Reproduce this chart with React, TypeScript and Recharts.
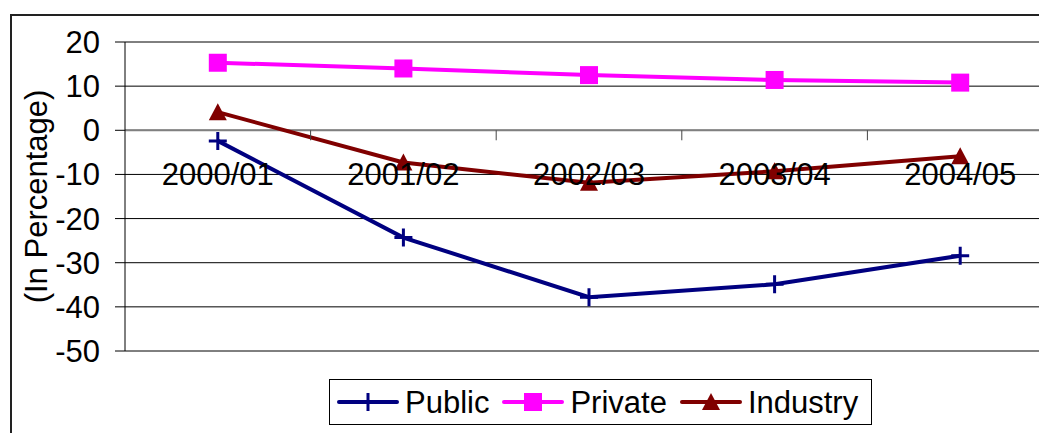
import React from 'react';
import { LineChart, Line, XAxis, YAxis, CartesianGrid, Legend, ReferenceLine } from 'recharts';

const periods = ['2000/01', '2001/02', '2002/03', '2003/04', '2004/05'];
const publicSector = [-2.4, -24.3, -37.8, -34.9, -28.4];
const privateSector = [15.3, 14.0, 12.5, 11.4, 10.8];
const industry = [4.1, -7.3, -11.9, -9.3, -5.9];
const yTicks = [-50, -40, -30, -20, -10, 0, 10, 20];

const chartData = periods.map((period, i) => ({
    period,
    public: publicSector[i],
    private: privateSector[i],
    industry: industry[i],
}));

const FONT = '"Liberation Sans", Arial, sans-serif';
const FONT_SIZE = 31;

// the plot runs a little past the right edge of the frame, so the chart is wider than the page
const WIDTH = 1070;
const HEIGHT = 433;
const MARGIN = { top: 42, right: 17, bottom: 52, left: 0 };
const Y_AXIS_WIDTH = 125;
const X_AXIS_HEIGHT = 30;
const Y_MIN = yTicks[0];
const Y_MAX = yTicks[yTicks.length - 1];

const plotWidth = WIDTH - MARGIN.left - MARGIN.right - Y_AXIS_WIDTH;
const plotHeight = HEIGHT - MARGIN.top - MARGIN.bottom - X_AXIS_HEIGHT;
const band = plotWidth / periods.length;
const zeroY = MARGIN.top + (plotHeight * Y_MAX) / (Y_MAX - Y_MIN);

const COLORS = { public: '#000080', private: '#FF00FF', industry: '#800000' };

type Marker = 'plus' | 'square' | 'triangle';

const series: { key: keyof typeof COLORS; name: string; marker: Marker }[] = [
    { key: 'public', name: 'Public', marker: 'plus' },
    { key: 'private', name: 'Private', marker: 'square' },
    { key: 'industry', name: 'Industry', marker: 'triangle' },
];

const drawMarker = (marker: Marker, cx: number, cy: number, color: string) => {
    if (marker === 'plus') {
        return <path d={`M${cx},${cy - 9}V${cy + 9}M${cx - 9},${cy}H${cx + 9}`} stroke={color} strokeWidth={3} fill="none" />;
    }
    if (marker === 'square') {
        return <rect x={cx - 9} y={cy - 9} width={18} height={18} fill={color} />;
    }
    return <polygon points={`${cx},${cy - 9} ${cx + 9},${cy + 8} ${cx - 9},${cy + 8}`} fill={color} />;
};

// category labels sit under the zero line, tick marks fall between categories
const PeriodTick = ({ x, payload, index }: any) => (
    <g>
        {index > 0 && (
            <line x1={x - band / 2} x2={x - band / 2} y1={zeroY} y2={zeroY + 10} stroke="#444" strokeWidth={1} />
        )}
        <text x={x} y={zeroY + 55} textAnchor="middle" fontSize={FONT_SIZE} fontFamily={FONT} fill="#000">
            {payload.value}
        </text>
    </g>
);

const LegendBox = () => (
    <div
        style={{
            display: 'flex',
            alignItems: 'center',
            width: '100%',
            height: '100%',
            boxSizing: 'border-box',
            border: '1px solid #000',
            paddingLeft: 7,
            fontFamily: FONT,
            fontSize: FONT_SIZE,
            color: '#000',
            background: '#fff',
        }}
    >
        {series.map(s => (
            <div key={s.key} style={{ display: 'flex', alignItems: 'center', marginRight: 13 }}>
                <svg width={62} height={22}>
                    <line x1={2} x2={60} y1={11} y2={11} stroke={COLORS[s.key]} strokeWidth={4} strokeLinecap="round" />
                    {drawMarker(s.marker, 31, 11, COLORS[s.key])}
                </svg>
                <span style={{ marginLeft: 6, lineHeight: 1 }}>{s.name}</span>
            </div>
        ))}
    </div>
);

const App: React.FC = () => (
    <div style={{ position: 'fixed', left: 0, top: 0, width: 1039, height: 433, overflow: 'hidden', background: '#fff' }}>
        <div
            style={{
                position: 'absolute',
                left: 10,
                top: 14,
                width: 1100,
                height: 500,
                border: '2px solid #222',
            }}
        />
        <div style={{ position: 'absolute', left: 0, top: 0 }}>
            <LineChart width={WIDTH} height={HEIGHT} data={chartData} margin={MARGIN}>
                <CartesianGrid vertical={false} stroke="#000" strokeWidth={1} />
                <XAxis
                    dataKey="period"
                    height={X_AXIS_HEIGHT}
                    axisLine={false}
                    tickLine={false}
                    tick={<PeriodTick />}
                    interval={0}
                    padding={{ left: band / 2, right: band / 2 }}
                />
                <YAxis
                    width={Y_AXIS_WIDTH}
                    domain={[Y_MIN, Y_MAX]}
                    ticks={yTicks}
                    interval={0}
                    axisLine={{ stroke: '#000' }}
                    tickLine={{ stroke: '#000' }}
                    tickSize={10}
                    tickMargin={15}
                    tick={{ fontSize: FONT_SIZE, fontFamily: FONT, fill: '#000' }}
                    label={{
                        value: '(In Percentage)',
                        angle: -90,
                        position: 'insideLeft',
                        offset: 0,
                        dx: 36,
                        style: { fontSize: FONT_SIZE, fontFamily: FONT, fill: '#000', textAnchor: 'middle' },
                    }}
                />
                <ReferenceLine y={0} stroke="#808080" strokeWidth={2} />
                <Legend
                    layout="horizontal"
                    verticalAlign="middle"
                    width={543}
                    height={46}
                    wrapperStyle={{ left: 329, top: 379, width: 543, height: 46 }}
                    content={<LegendBox />}
                />
                {series.map(s => (
                    <Line
                        key={s.key}
                        type="linear"
                        dataKey={s.key}
                        name={s.name}
                        stroke={COLORS[s.key]}
                        strokeWidth={4}
                        isAnimationActive={false}
                        activeDot={false}
                        dot={(p: any) => <g key={`${s.key}-${p.index}`}>{drawMarker(s.marker, p.cx, p.cy, COLORS[s.key])}</g>}
                    />
                ))}
            </LineChart>
        </div>
    </div>
);

export default App;
